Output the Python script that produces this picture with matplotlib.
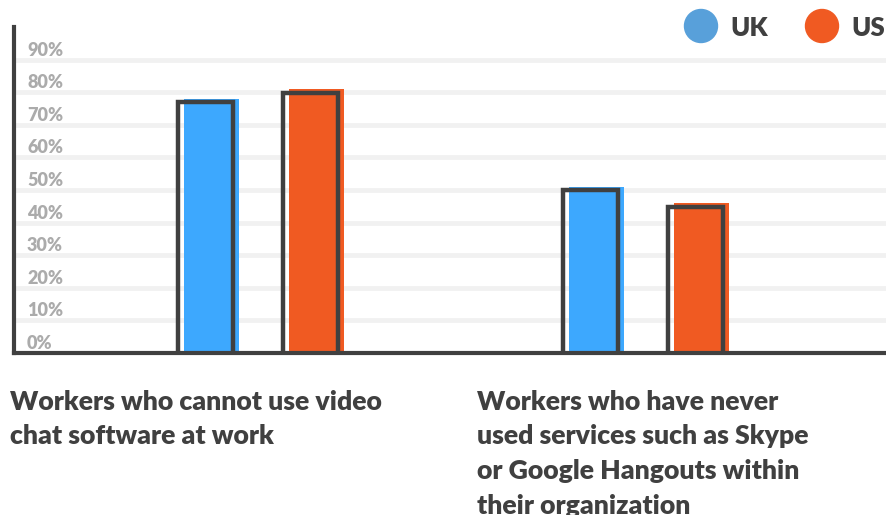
import matplotlib
matplotlib.use("Agg")
import matplotlib.pyplot as plt
from matplotlib.patches import Circle
from matplotlib.transforms import ScaledTranslation
import numpy as np

# ---- data ----
categories = [
    ["Workers who cannot use video", "chat software at work"],
    ["Workers who have never", "used services such as Skype",
     "or Google Hangouts within", "their organization"],
]
series_names = ["UK", "US"]
uk_values = [78, 51]
us_values = [81, 46]
yticks = [0, 10, 20, 30, 40, 50, 60, 70, 80, 90]
ytick_labels = [f"{v}%" for v in yticks]

BLUE = "#3DA8FE"
ORANGE = "#F05A22"
LEG_BLUE = "#58A0DA"
DARK = "#404040"
GRID = "#F1F1F1"
TICK = "#ABABAB"

plt.rcParams['font.family'] = ['Lato', 'DejaVu Sans']

W, H = 887, 515
fig = plt.figure(figsize=(W / 100, H / 100), dpi=100)
ax = fig.add_axes([14 / W, (H - 353) / H, 1 - 14 / W, 326 / H])
ax.set_xlim(-0.650, 1.620)
ax.set_ylim(0, 100)

x = np.arange(len(categories))
bw = 0.143
off = 0.1365

# grid lines
for v in yticks[1:]:
    ax.axhline(v, color=GRID, lw=3.4, zorder=0)

# filled bars
ax.bar(x - off, uk_values, bw, color=BLUE, zorder=2, linewidth=0)
ax.bar(x + off, us_values, bw, color=ORANGE, zorder=2, linewidth=0)

# offset outline bars
shift = ax.transData + ScaledTranslation(-0.06, -0.036, fig.dpi_scale_trans)
for vals, sign in ((uk_values, -1), (us_values, 1)):
    bars = ax.bar(x + sign * off, vals, bw, fill=False, edgecolor=DARK,
                  linewidth=3.2, zorder=3)
    for b in bars:
        b.set_transform(shift)
        b.set_joinstyle('miter')

# spines
for s in ['top', 'right']:
    ax.spines[s].set_visible(False)
ax.spines['left'].set_color(DARK)
ax.spines['left'].set_linewidth(3.0)
ax.spines['bottom'].set_color(DARK)
ax.spines['bottom'].set_linewidth(3.0)
ax.spines['bottom'].set_zorder(4)
ax.set_xticks([])
ax.set_yticks([])

# y tick labels (above lines)
for v, lab in zip(yticks, ytick_labels):
    ax.text(-0.650 + 13 / 384.5, v + 0.3, lab, color=TICK, fontsize=13,
            fontweight='heavy', ha='left', va='bottom', zorder=5)

# category labels
label_x = [10, 477]
for lines, lx in zip(categories, label_x):
    for i, line in enumerate(lines):
        fig.text(lx / W, 1 - (410 + 34.5 * i) / H, line, color=DARK,
                 fontsize=19.2, fontweight='heavy', ha='left', va='baseline')

# legend
leg_cx = [701, 822]
for name, col, cx in zip(series_names, [LEG_BLUE, ORANGE], leg_cx):
    fig.add_artist(Circle((cx / 100, (H - 26) / 100), 0.165, color=col,
                          transform=fig.dpi_scale_trans))
    fig.text((cx + 29) / W, 1 - 26 / H, name, color=DARK, fontsize=18.5,
             fontweight='heavy', ha='left', va='center_baseline')

fig.savefig("out.png", dpi=100)
